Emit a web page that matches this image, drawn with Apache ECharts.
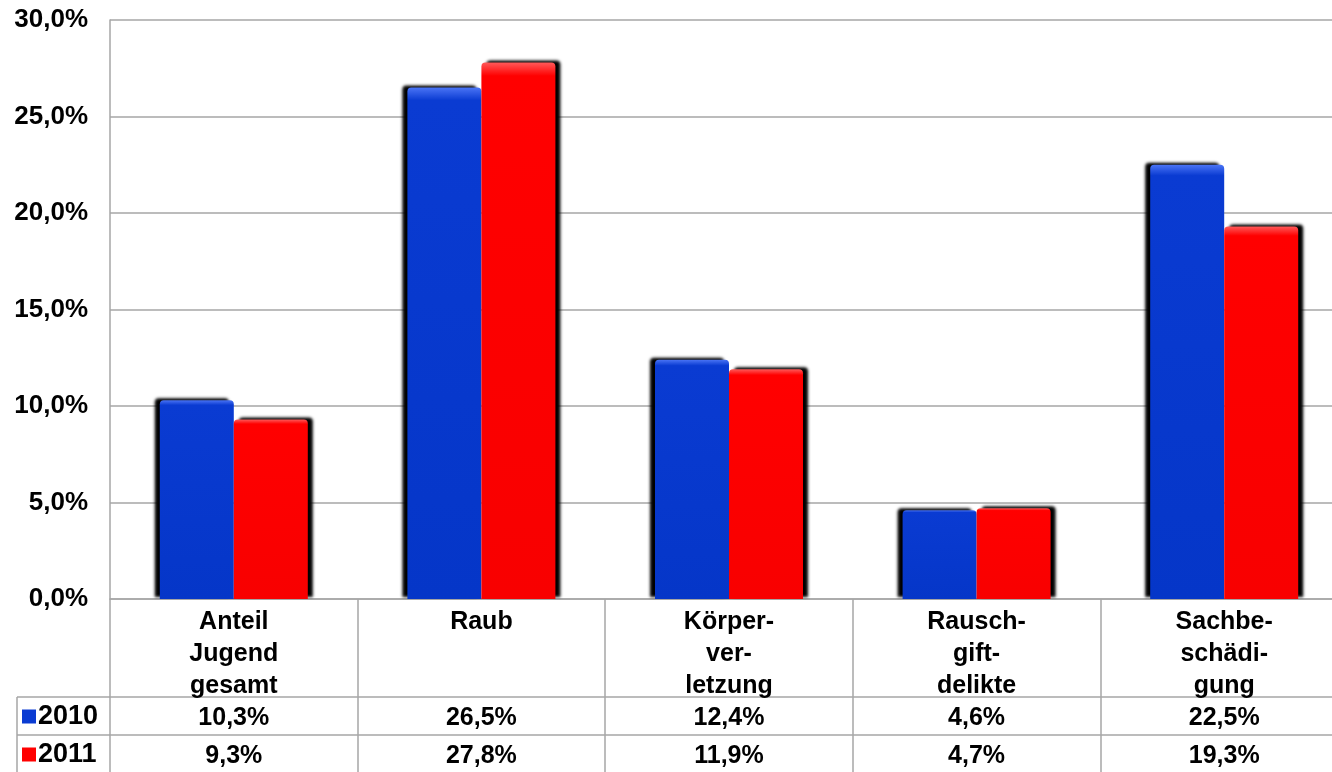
<!DOCTYPE html>
<html>
<head>
<meta charset="utf-8">
<script src="https://cdn.jsdelivr.net/npm/echarts@6/dist/echarts.min.js"></script>
<style>html,body{margin:0;padding:0;background:#fff}#c{width:1332px;height:772px}</style>
</head>
<body>
<div id="c"></div>
<script>
var categories = ['Anteil\nJugend\ngesamt', 'Raub', 'Körper-\nver-\nletzung', 'Rausch-\ngift-\ndelikte', 'Sachbe-\nschädi-\ngung'];
var seriesNames = ['2010', '2011'];
var values2010 = [10.3, 26.5, 12.4, 4.6, 22.5];
var values2011 = [9.3, 27.8, 11.9, 4.7, 19.3];
var yTicks = { min: 0, max: 30, interval: 5 };

function fmt(v) { return v.toFixed(1).replace('.', ',') + '%'; }

var FONT = '"Liberation Sans", Arial, sans-serif';
var GRID_COLOR = '#a6a6a6';

function grad(light, main, dark) {
  return new echarts.graphic.LinearGradient(0, 0, 0, 1, [
    { offset: 0, color: light }, { offset: 0.025, color: main }, { offset: 1, color: dark }
  ]);
}
var blueGrad = grad('#4a74f5', '#0a3bd2', '#0536c8');
var redGrad = grad('#ff5a5a', '#ff0000', '#f80000');

var chart = echarts.init(document.getElementById('c'), null, { renderer: 'canvas' });

var valueLabelStyle = { color: '#000', fontFamily: FONT, fontWeight: 'bold', fontSize: 25, lineHeight: 32 };

function legendFor(idx, top, color) {
  return {
    data: [{ name: seriesNames[idx], itemStyle: { color: color } }],
    left: 22, top: top, padding: 0,
    itemWidth: 14, itemHeight: 14, itemGap: 0,
    icon: 'rect',
    textStyle: { color: '#000', fontFamily: FONT, fontWeight: 'bold', fontSize: 27, padding: [0, 0, 0, -3] },
    selectedMode: false
  };
}

chart.setOption({
  animation: false,
  backgroundColor: '#fff',
  grid: { left: 110, top: 20, width: 1238, bottom: 173, containLabel: false, outerBoundsMode: 'none' },
  legend: [legendFor(0, 703, '#0a3bd2'), legendFor(1, 741, '#ff0000')],
  xAxis: [
    {
      type: 'category', data: categories, position: 'bottom',
      axisLine: { show: true, lineStyle: { color: GRID_COLOR, width: 1.5 } },
      axisTick: { show: true, length: 173, interval: 0, lineStyle: { color: GRID_COLOR, width: 1.5 } },
      axisLabel: { interval: 0, margin: 7, lineHeight: 32, color: '#000', fontFamily: FONT, fontWeight: 'bold', fontSize: 25 }
    },
    {
      type: 'category', data: values2010.map(fmt), position: 'bottom', offset: 98,
      axisLine: { show: true, lineStyle: { color: GRID_COLOR, width: 1.5 } },
      axisTick: { show: false },
      axisLabel: Object.assign({ interval: 0, margin: 5 }, valueLabelStyle)
    },
    {
      type: 'category', data: values2011.map(fmt), position: 'bottom', offset: 136,
      axisLine: { show: true, lineStyle: { color: GRID_COLOR, width: 1.5 } },
      axisTick: { show: false },
      axisLabel: Object.assign({ interval: 0, margin: 5 }, valueLabelStyle)
    }
  ],
  yAxis: {
    type: 'value', min: yTicks.min, max: yTicks.max, interval: yTicks.interval,
    axisLine: { show: true, lineStyle: { color: GRID_COLOR, width: 1.5 } },
    axisTick: { show: false },
    splitLine: { show: true, lineStyle: { color: GRID_COLOR, width: 1.5 } },
    axisLabel: { formatter: fmt, margin: 22, color: '#000', fontFamily: FONT, fontWeight: 'bold', fontSize: 26 }
  },
  series: [
    {
      name: seriesNames[0], type: 'bar', data: values2010, barWidth: 74, barGap: '0%',
      itemStyle: { color: blueGrad, borderRadius: [4, 4, 0, 0], shadowColor: 'rgba(0,0,0,1)', shadowBlur: 3, shadowOffsetX: -5, shadowOffsetY: -2 }
    },
    {
      name: seriesNames[1], type: 'bar', data: values2011, barWidth: 74, barGap: '0%',
      itemStyle: { color: redGrad, borderRadius: [4, 4, 0, 0], shadowColor: 'rgba(0,0,0,1)', shadowBlur: 3, shadowOffsetX: 5, shadowOffsetY: -2 }
    }
  ],
  graphic: [
    { type: 'line', shape: { x1: 17, y1: 697, x2: 110, y2: 697 }, style: { stroke: GRID_COLOR, lineWidth: 1.5 } },
    { type: 'line', shape: { x1: 17, y1: 735, x2: 110, y2: 735 }, style: { stroke: GRID_COLOR, lineWidth: 1.5 } },
    { type: 'line', shape: { x1: 17, y1: 697, x2: 17, y2: 772 }, style: { stroke: GRID_COLOR, lineWidth: 1.5 } }
  ]
});
</script>
</body>
</html>
